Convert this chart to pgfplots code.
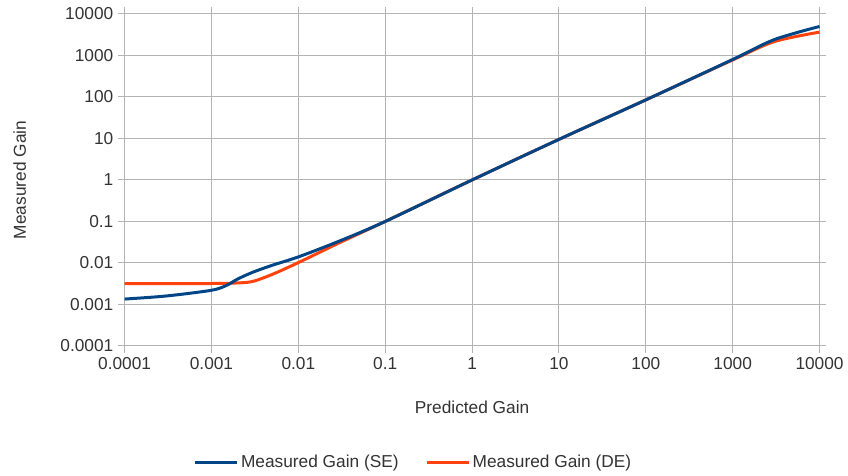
\documentclass[border=0pt]{standalone}
\usepackage{pgfplots}
\pgfplotsset{compat=1.18}
\usepackage{fontspec}
\setmainfont{Liberation Sans}
\definecolor{seblue}{HTML}{004586}
\definecolor{deorange}{HTML}{FF420E}
\definecolor{gridgray}{HTML}{B3B3B3}
\definecolor{txt}{HTML}{333333}
\begin{document}
\begin{tikzpicture}
\begin{axis}[
  scale only axis,
  width=522.75pt, height=249.75pt,
  xmode=log, ymode=log,
  xmin=1e-4, xmax=1e4, ymin=1e-4, ymax=1e4,
  log basis x=10, log basis y=10,
  xtick={1e-4,1e-3,1e-2,1e-1,1,10,100,1000,10000},
  ytick={1e-4,1e-3,1e-2,1e-1,1,10,100,1000,10000},
  xticklabels={0.0001,0.001,0.01,0.1,1,10,100,1000,10000},
  yticklabels={0.0001,0.001,0.01,0.1,1,10,100,1000,10000},
  minor tick num=0,
  grid=major,
  major grid style={gridgray, line width=0.75pt},
  axis line style={gridgray, line width=0.75pt},
  tick style={gridgray, line width=0.75pt},
  tick align=outside,
  major tick length=5pt,
  ticklabel style={font=\fontsize{13}{15}\selectfont, text=txt},
  xlabel={Predicted Gain},
  ylabel={Measured Gain},
  label style={font=\fontsize{13}{15}\selectfont, text=txt},
  xlabel style={at={(0.5,-0.185)}, anchor=center},
  ylabel style={at={(-0.151,0.5)}, anchor=center},
  clip=false,
  legend columns=2,
  reverse legend,
  legend style={draw=none, at={(0.416,-0.351)}, anchor=center,
    font=\fontsize{13}{15}\selectfont, text=txt,
    /tikz/every even column/.append style={column sep=18pt}},
  legend image code/.code={\draw[#1, line width=2.25pt] (0pt,0pt) -- (31.5pt,0pt);},
]
\addplot[deorange, line width=2.25pt, smooth, tension=0.5] coordinates {
 (1e-4,0.0032) (0.001,0.0032) (0.002,0.0033) (0.003,0.0036) (0.005,0.0053)
 (0.01,0.0102) (0.03,0.031) (0.1,0.1) (1,1) (10,9.5)
 (100,85) (1000,780) (3000,2150) (10000,3650)};
\addlegendentry{Measured Gain (DE)}
\addplot[seblue, line width=2.25pt, smooth, tension=0.5] coordinates {
 (1e-4,0.00135) (3e-4,0.0016) (0.001,0.0022) (0.0015,0.0029) (0.002,0.0041)
 (0.003,0.006) (0.005,0.0088) (0.01,0.014) (0.03,0.034) (0.1,0.1) (1,1) (10,9.5)
 (100,85) (1000,800) (3000,2400) (10000,5000)};
\addlegendentry{Measured Gain (SE)}
\path (rel axis cs:0,0) ++(-93.75pt,-97.5pt) coordinate (bl);
\path (rel axis cs:1,1) ++(19.5pt,10.5pt) coordinate (tr);
\path[use as bounding box] (bl) rectangle (tr);
\end{axis}
\end{tikzpicture}
\end{document}
